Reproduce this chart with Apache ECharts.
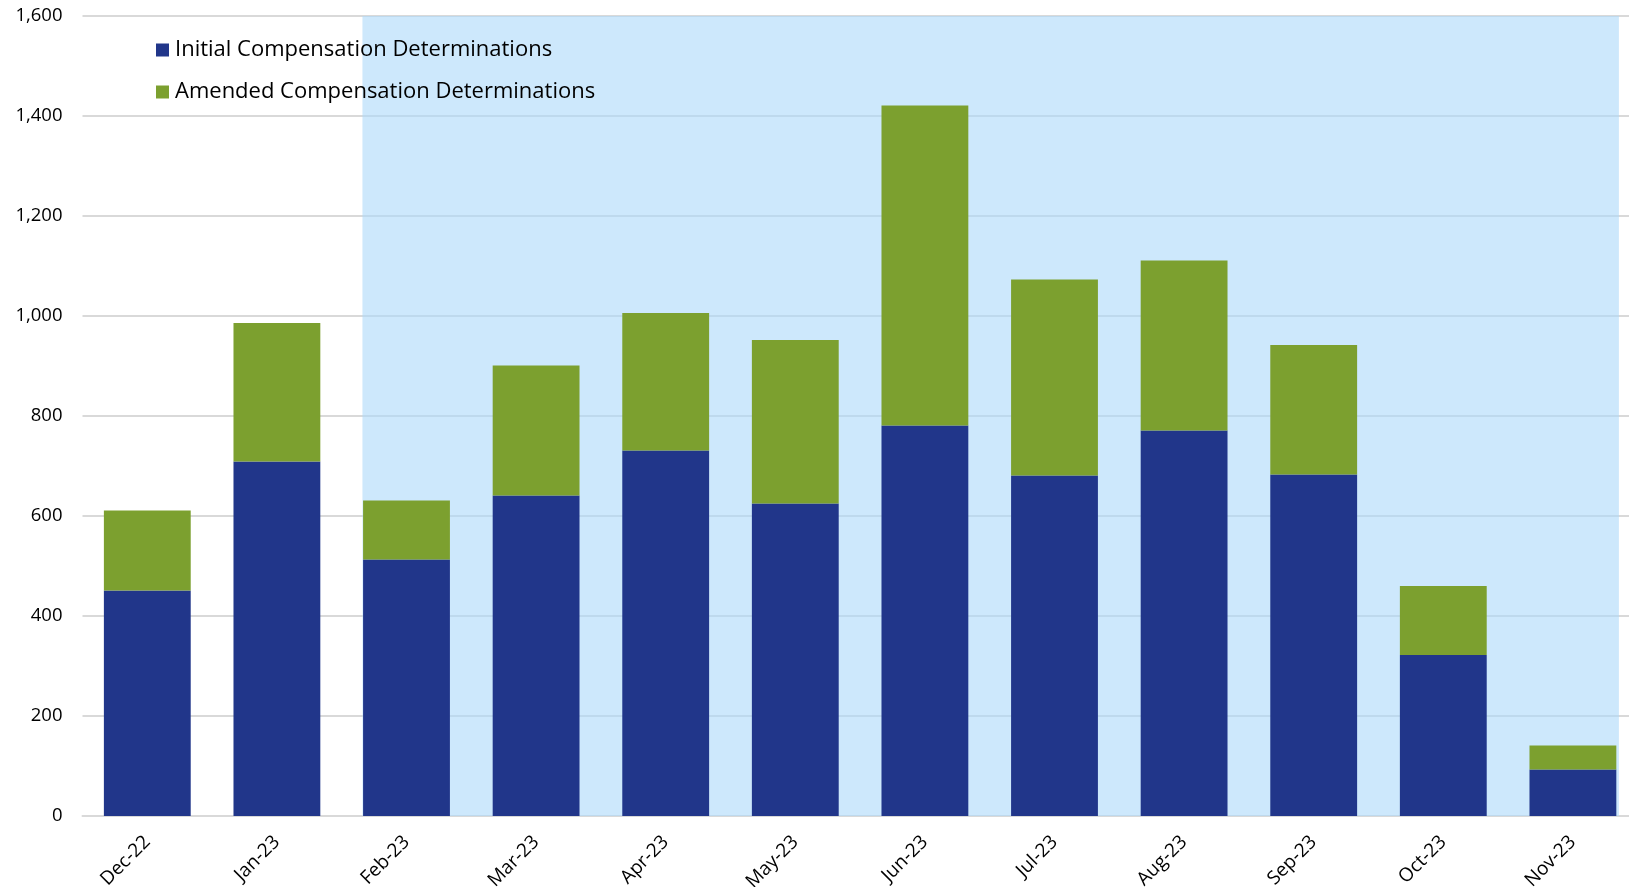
<!DOCTYPE html>
<html>
<head>
<meta charset="utf-8">
<script src="https://cdn.jsdelivr.net/npm/echarts@6/dist/echarts.min.js"></script>
<style>
html,body{margin:0;padding:0;background:#fff;}
#c{width:1629px;height:887px;}
</style>
</head>
<body>
<div id="c"></div>
<script>
const categories = ['Dec-22','Jan-23','Feb-23','Mar-23','Apr-23','May-23','Jun-23','Jul-23','Aug-23','Sep-23','Oct-23','Nov-23'];
const initialDeterminations = [451, 709, 513, 641, 731, 625, 781, 681, 771, 683, 322, 93];
const amendedDeterminations = [160, 277, 118, 260, 275, 327, 640, 392, 340, 259, 138, 48];
const yTicks = { min: 0, max: 1600, interval: 200 };
// shaded period, in category-index units (Feb-23 bar edge to Nov-23 bar edge)
const shadedPeriod = { from: 1.66, to: 11.355 };
const seriesNames = ['Initial Compensation Determinations', 'Amended Compensation Determinations'];

const chart = echarts.init(document.getElementById('c'), null, { renderer: 'canvas' });
const FONT = '"Open Sans", "Noto Sans", sans-serif';

chart.setOption({
  animation: false,
  backgroundColor: '#ffffff',
  grid: { left: 82.5, width: 1555.2, top: 16, height: 800, containLabel: false, outerBoundsMode: 'none' },
  legend: {
    data: seriesNames,
    orient: 'vertical',
    left: 156,
    top: 38,
    padding: 0,
    itemWidth: 13,
    itemHeight: 13,
    itemGap: 18,
    icon: 'rect',
    textStyle: { fontFamily: FONT, fontSize: 22, color: '#000', lineHeight: 24, padding: [0,0,0,1] }
  },
  xAxis: [
    {
      type: 'category',
      data: categories,
      axisTick: { show: false },
      axisLine: { lineStyle: { color: '#D9D9D9', width: 2 } },
      axisLabel: { rotate: 45, margin: 23, fontFamily: FONT, fontSize: 19, color: '#000', interval: 0 }
    },
    { type: 'value', min: -0.5, max: categories.length - 0.5, show: false }
  ],
  yAxis: {
    type: 'value',
    min: yTicks.min, max: yTicks.max, interval: yTicks.interval,
    axisLine: { show: false },
    axisTick: { show: false },
    splitLine: { lineStyle: { color: '#D9D9D9', width: 2 } },
    axisLabel: {
      margin: 20, fontFamily: FONT, fontSize: 18.5, color: '#000',
      formatter: v => v.toLocaleString('en-US')
    }
  },
  series: [
    {
      name: 'shade',
      type: 'line',
      xAxisIndex: 1,
      data: [],
      silent: true,
      markArea: {
        silent: true,
        itemStyle: { color: 'rgba(172,217,250,0.6)' },
        data: [[{ xAxis: shadedPeriod.from, yAxis: yTicks.min }, { xAxis: shadedPeriod.to, yAxis: yTicks.max }]]
      }
    },
    {
      name: seriesNames[0],
      type: 'bar',
      stack: 'total',
      barCategoryGap: '33%',
      itemStyle: { color: '#21368A' },
      data: initialDeterminations
    },
    {
      name: seriesNames[1],
      type: 'bar',
      stack: 'total',
      barCategoryGap: '33%',
      itemStyle: { color: '#7CA02F' },
      data: amendedDeterminations
    }
  ]
});
</script>
</body>
</html>
